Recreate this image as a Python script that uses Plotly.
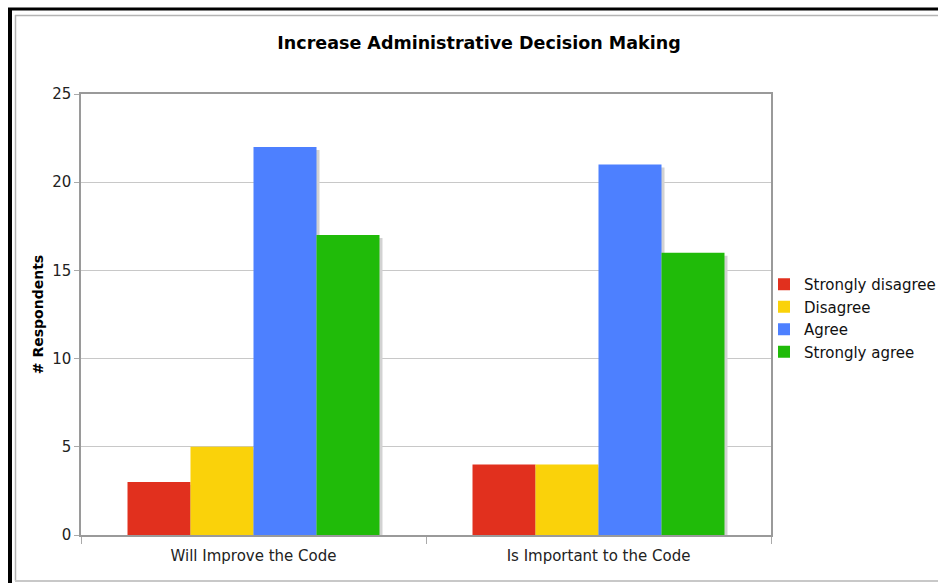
import plotly.graph_objects as go

# Survey responses per statement
categories = ["Will Improve the Code", "Is Important to the Code"]
series_names = ["Strongly disagree", "Disagree", "Agree", "Strongly agree"]
strongly_disagree = [3, 4]
disagree = [5, 4]
agree = [22, 21]
strongly_agree = [17, 16]

series_values = [strongly_disagree, disagree, agree, strongly_agree]
colors = ["#e1301e", "#fad20a", "#4d80ff", "#20bb09"]

W, H = 938, 583
L, R, T, B = 81, 167, 94, 48
plot_w = W - L - R
plot_h = H - T - B
y_max = 25

bar_w = 0.1826
group_start = -2 * bar_w
shadow_dx = 3 / plot_w * 2.0      # ~3px in category units (range spans 2 categories)
shadow_dy = 3 / plot_h * y_max    # ~3px in value units

fig = go.Figure()

# soft drop shadow behind each bar
for i, vals in enumerate(series_values):
    fig.add_trace(go.Bar(
        x=categories, y=vals,
        base=[-shadow_dy] * len(vals),
        offset=group_start + i * bar_w + shadow_dx, width=bar_w,
        marker=dict(color="#d2d2d2", line=dict(width=0)),
        showlegend=False, hoverinfo="skip",
    ))

for i, (name, vals) in enumerate(zip(series_names, series_values)):
    fig.add_trace(go.Bar(
        x=categories, y=vals, name=name,
        offset=group_start + i * bar_w, width=bar_w,
        marker=dict(color=colors[i], line=dict(width=0)),
    ))

def px_x(px):
    return (px - L) / plot_w

def px_y(py):
    return 1 - (py - T) / plot_h

shapes = [
    # outer frame
    dict(type="line", xref="paper", yref="paper", x0=px_x(10), x1=px_x(10),
         y0=px_y(8), y1=px_y(590), line=dict(color="#000", width=4)),
    dict(type="line", xref="paper", yref="paper", x0=px_x(8), x1=px_x(945),
         y0=px_y(9), y1=px_y(9), line=dict(color="#000", width=3)),
    dict(type="line", xref="paper", yref="paper", x0=px_x(15.5), x1=px_x(15.5),
         y0=px_y(15), y1=px_y(581), line=dict(color="#b4b4b4", width=1.5)),
    dict(type="line", xref="paper", yref="paper", x0=px_x(15), x1=px_x(945),
         y0=px_y(15.5), y1=px_y(15.5), line=dict(color="#b4b4b4", width=1.5)),
    dict(type="line", xref="paper", yref="paper", x0=px_x(15), x1=px_x(945),
         y0=px_y(581), y1=px_y(581), line=dict(color="#c8c8c8", width=2)),
]

fig.update_layout(
    width=W, height=H,
    margin=dict(l=L, r=R, t=T, b=B, autoexpand=False),
    paper_bgcolor="white", plot_bgcolor="white",
    font=dict(family="DejaVu Sans", size=15, color="#222"),
    barmode="overlay",
    title=dict(text="<b>Increase Administrative Decision Making</b>",
               x=479 / W, xanchor="center",
               y=1 - 43 / H, yanchor="middle",
               font=dict(family="DejaVu Sans", size=17.5, color="#000")),
    legend=dict(x=px_x(764), xanchor="left", y=px_y(268), yanchor="top",
                font=dict(family="DejaVu Sans", size=15, color="#111"),
                itemwidth=30, tracegroupgap=0, traceorder="normal",
                bgcolor="rgba(0,0,0,0)"),
    shapes=shapes,
    showlegend=True,
)

fig.update_xaxes(
    range=[-0.5, 1.5], showline=True, linecolor="#9a9a9a", linewidth=1.5,
    mirror=True, ticks="outside", tickson="boundaries", ticklen=7,
    tickcolor="#aaaaaa", showgrid=False, ticklabelstandoff=6,
    tickfont=dict(family="DejaVu Sans", size=15, color="#222"),
)
fig.update_yaxes(
    range=[0, y_max], tickvals=[0, 5, 10, 15, 20, 25],
    showline=True, linecolor="#9a9a9a", linewidth=1.5, mirror=True,
    ticks="outside", ticklen=5, tickcolor="#aaaaaa",
    showgrid=True, gridcolor="#c8c8c8", gridwidth=1, zeroline=False,
    tickfont=dict(family="DejaVu Sans", size=15, color="#222"),
    title=dict(text="<b># Respondents</b>", standoff=5,
               font=dict(family="DejaVu Sans", size=14, color="#000")),
)

fig.write_html("out.html")
